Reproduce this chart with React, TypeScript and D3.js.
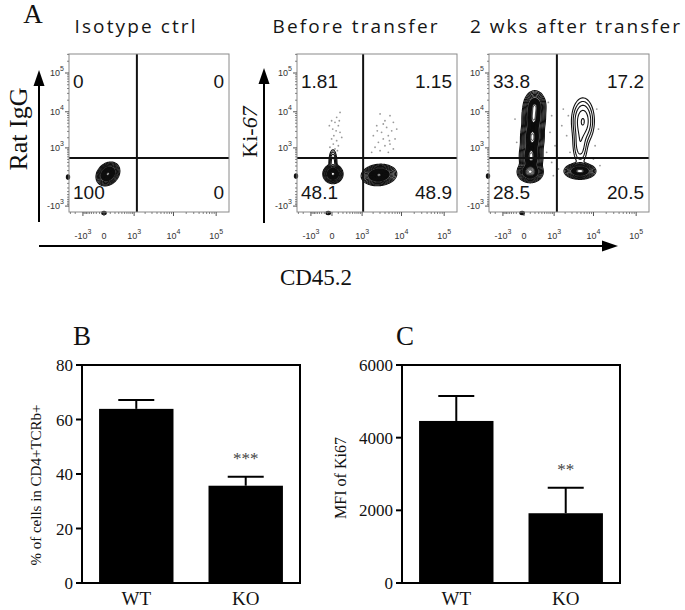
import React, { useMemo } from 'react';
import * as d3 from 'd3';

// ---------- Panel A data ----------
const FLOW_TITLES = ['Isotype ctrl', 'Before transfer', '2 wks after transfer'];
// quadrant percentages: UL, UR, LL, LR
const QUADRANT_PCTS = [
  ['0', '0', '100', '0'],
  ['1.81', '1.15', '48.1', '48.9'],
  ['33.8', '17.2', '28.5', '20.5'],
];
const LOG_TICKS_X = [-1000, 0, 1000, 10000, 100000];
const LOG_TICKS_Y = [-1000, 1000, 10000, 100000];
const GATE_X = [1200, 1070, 1200];
const GATE_Y = [450, 450, 450];

// populations in transformed (logicle-like) units: [cx, cy, sx, sy, weight, rho]
const POP_ISOTYPE = [[0.21, 0.18, 0.2, 0.22, 1.0, 0.25]];
const POP_BEFORE = [
  [0.05, 0.18, 0.17, 0.18, 1.0, 0],
  [0.05, 0.85, 0.1, 0.35, 0.06, 0],
  [2.51, 0.12, 0.3, 0.2, 0.95, 0.1],
];
const POP_AFTER = [
  [0.33, 0.3, 0.22, 0.2, 1.0, 0],
  [0.38, 1.2, 0.21, 0.42, 0.62, 0],
  [0.45, 2.35, 0.21, 0.42, 0.6, 0],
  [0.52, 3.5, 0.21, 0.42, 0.58, 0],
  [0.58, 4.2, 0.2, 0.3, 0.45, 0],
  [2.99, 0.35, 0.28, 0.16, 0.68, 0],
  [3.0, 1.9, 0.2, 0.6, 0.035, 0],
  [3.15, 3.3, 0.28, 0.62, 0.07, 0],
];
const CONTOUR_LEVELS = [0.006, 0.012, 0.022, 0.04, 0.065, 0.1, 0.15, 0.21, 0.28, 0.36, 0.45, 0.55, 0.66, 0.78, 0.9];
// density levels (fraction of max) at which contours become solid / show a light core
const SOLID_FROM = [0.15, 0.15, 0.15];
const CORE_AT = [0.95, 0.88, 0.5];

const OUTLIERS_ISOTYPE: number[][] = [[0.75, 0.3]];
const OUTLIERS_BEFORE = [
  [0.43, 3.8], [0.25, 3.51], [-0.02, 3.31], [0.16, 3.22], [0.34, 3.02], [0.04, 2.82], [0.22, 2.72],
  [0.43, 2.63], [0.1, 2.43], [-0.02, 2.24], [0.25, 2.14], [0.07, 1.94], [0.34, 1.84], [0.16, 1.65],
  [0.04, 1.45], [0.29, 1.55], [-0.11, 1.75], [0.52, 2.33], [-0.14, 3.02], [0.39, 3.31],
  [2.57, 3.71], [3.1, 3.61], [2.83, 3.31], [3.28, 3.22], [2.39, 3.02], [2.92, 2.92], [3.19, 2.72],
  [2.65, 2.63], [2.21, 2.43], [3.01, 2.43], [3.37, 2.24], [2.74, 2.24], [2.48, 2.04], [3.1, 1.94],
  [2.83, 1.84], [2.3, 1.75], [3.28, 1.65], [2.57, 1.55], [3.01, 1.45], [2.12, 1.45], [3.46, 2.82],
  [2.74, 3.12], [2.42, 2.72], [3.07, 2.14],
];
const OUTLIERS_AFTER = [
  [1.3, 4.39], [1.48, 3.61], [1.39, 2.63], [1.66, 1.84], [1.21, 1.45], [1.48, 0.86], [-0.48, 3.41],
  [-0.39, 2.04], [2.02, 3.02], [2.1, 4.0], [1.84, 0.47], [3.89, 4.0], [3.98, 2.82], [3.8, 1.84],
  [2.28, 2.43], [2.46, 1.45], [3.71, 1.06], [4.06, 0.67], [2.37, 3.61], [1.57, 0.08],
];
// off-scale events piled on axes (transformed units)
const EDGE_LEFT_Y = [0, 0.06, 0.06];
const EDGE_BOTTOM_X = [0, -0.2, -0.1];

// ---------- Panel B / C data ----------
const GROUPS = ['WT', 'KO'];
const PCT_MEAN = [63.9, 35.7];
const PCT_SEM = [3.3, 3.3];
const PCT_TICKS = [0, 20, 40, 60, 80];
const MFI_MEAN = [4460, 1920];
const MFI_SEM = [690, 705];
const MFI_TICKS = [0, 2000, 4000, 6000];
const SIG_B = ['', '***'];
const SIG_C = ['', '**'];

// ---------- layout ----------
const FLOW_LEFT = [69, 297, 489];
const FLOW_TOP = 54;
const FLOW_W = 160;
const FLOW_H = 158;
const X_T_DOMAIN = [-1.87, 6.68];
const Y_T_DOMAIN = [-2.06, 7.24];
const tfx = (v: number) => (v >= 0 ? Math.log1p(v / 250) : -0.7 * Math.log1p(-v / 250));
const tfy = (v: number) => (v >= 0 ? Math.log1p(v / 220) : -1.0 * Math.log1p(-v / 220));

const SERIF = '"Liberation Serif", "Times New Roman", serif';
const SANS = '"Liberation Sans", Arial, sans-serif';

const xT = d3.scaleLinear().domain(X_T_DOMAIN).range([0, FLOW_W]);
const yT = d3.scaleLinear().domain(Y_T_DOMAIN).range([FLOW_H, 0]);

function minorTicks(tf: (v: number) => number, scale: d3.ScaleLinear<number, number>) {
  const out: number[] = [];
  const dom = scale.domain();
  for (const sign of [1, -1]) {
    for (const dec of [100, 1000, 10000, 100000]) {
      for (let k = dec === 100 ? 1 : 2; k <= 9; k++) {
        const t = tf(sign * k * dec);
        if (t > dom[0] && t < dom[1]) out.push(scale(t));
      }
    }
  }
  return out;
}

function tickLabel(v: number, anchor: 'middle' | 'end', x: number, y: number, key: string) {
  if (v === 0) {
    return (
      <text key={key} x={x} y={y} fontSize={9} textAnchor={anchor} fill="#333" fontFamily={SANS}>0</text>
    );
  }
  const exp = Math.round(Math.log10(Math.abs(v)));
  return (
    <text key={key} x={x} y={y} fontSize={9} textAnchor={anchor} fill="#333" fontFamily={SANS}>
      {v < 0 ? '-10' : '10'}
      <tspan dy={-5} fontSize={7}>{exp}</tspan>
    </text>
  );
}

function FlowPlot({ idx, pops, outliers }: { idx: number; pops: number[][]; outliers: number[][] }) {
  const left = FLOW_LEFT[idx];
  const top = FLOW_TOP;
  const layers = useMemo(() => {
    const res = 2;
    const n = FLOW_W * res;
    const m = FLOW_H * res;
    const vals = new Array(n * m);
    let max = 0;
    for (let j = 0; j < m; j++) {
      const ty = yT.invert((j + 0.5) / res);
      for (let i = 0; i < n; i++) {
        const tx = xT.invert((i + 0.5) / res);
        let s = 0;
        for (const [cx, cy, sx, sy, w, r] of pops) {
          const dx = (tx - cx) / sx;
          const dy = (ty - cy) / sy;
          const q = (dx * dx - 2 * r * dx * dy + dy * dy) / (1 - r * r);
          s += w * Math.exp(-0.5 * q);
        }
        vals[j * n + i] = s;
        if (s > max) max = s;
      }
    }
    const levels = [...CONTOUR_LEVELS, SOLID_FROM[idx], CORE_AT[idx]]
      .filter((v, i, a) => a.indexOf(v) === i)
      .sort((a, b) => a - b);
    const contours = d3.contours().size([n, m]).thresholds(levels.map((f) => f * max))(vals);
    const path = d3.geoPath(d3.geoIdentity().scale(1 / res) as any);
    return contours.map((c, i) => ({
      d: path(c as any) || '',
      level: levels[i],
    }));
  }, [pops, idx]);

  const gx = xT(tfx(GATE_X[idx]));
  const gy = yT(tfy(GATE_Y[idx]));
  const q = QUADRANT_PCTS[idx];
  const clipId = `clip${idx}`;
  const minX = minorTicks(tfx, xT);
  const minY = minorTicks(tfy, yT);

  return (
    <g transform={`translate(${left},${top})`}>
      <defs>
        <clipPath id={clipId}>
          <rect x={0} y={0} width={FLOW_W} height={FLOW_H} />
        </clipPath>
      </defs>
      <rect x={0} y={0} width={FLOW_W} height={FLOW_H} fill="#fff" />
      <g clipPath={`url(#${clipId})`}>
        {outliers.map(([tx, ty], i) => (
          <circle key={i} cx={xT(tx)} cy={yT(ty)} r={0.9} fill="#9a9a9a" />
        ))}
        {layers.map((l, i) => {
          const fill = l.level === CORE_AT[idx] ? '#fff' : l.level === SOLID_FROM[idx] ? '#0a0a0a' : 'none';
          return (
            <path
              key={i}
              d={l.d}
              fill={fill}
              stroke="#111"
              strokeWidth={l.level < SOLID_FROM[idx] ? 1.1 : 0.9}
              strokeLinejoin="round"
            />
          );
        })}
      </g>
      {/* off-scale events on axes */}
      <ellipse cx={-1} cy={yT(EDGE_LEFT_Y[idx])} rx={2.2} ry={2.8} fill="#111" />
      <ellipse cx={xT(EDGE_BOTTOM_X[idx])} cy={FLOW_H + 1} rx={2.8} ry={2.2} fill="#111" />
      {/* gates */}
      <line x1={gx} x2={gx} y1={0} y2={FLOW_H} stroke="#111" strokeWidth={2} />
      <line x1={0} x2={FLOW_W} y1={gy} y2={gy} stroke="#111" strokeWidth={2} />
      <rect x={0} y={0} width={FLOW_W} height={FLOW_H} fill="none" stroke="#8a8a8a" strokeWidth={1} />
      {/* ticks */}
      {minX.map((x, i) => (
        <line key={`mx${i}`} x1={x} x2={x} y1={FLOW_H} y2={FLOW_H + 2} stroke="#666" strokeWidth={0.8} />
      ))}
      {minY.map((y, i) => (
        <line key={`my${i}`} x1={0} x2={-2} y1={y} y2={y} stroke="#666" strokeWidth={0.8} />
      ))}
      {LOG_TICKS_X.map((v) => {
        const x = xT(tfx(v));
        return <line key={`tx${v}`} x1={x} x2={x} y1={FLOW_H} y2={FLOW_H + 4} stroke="#555" strokeWidth={1} />;
      })}
      {LOG_TICKS_Y.map((v) => {
        const y = yT(tfy(v));
        return <line key={`ty${v}`} x1={0} x2={-4} y1={y} y2={y} stroke="#555" strokeWidth={1} />;
      })}
      {LOG_TICKS_X.map((v) => tickLabel(v, 'middle', xT(tfx(v)), FLOW_H + 27, `lx${v}`))}
      {LOG_TICKS_Y.map((v) => tickLabel(v, 'end', -5, yT(tfy(v)) + 3, `ly${v}`))}
      {/* quadrant numbers */}
      <g fontFamily={SANS} fontSize={19} fill="#151515">
        <text x={4} y={34}>{q[0]}</text>
        <text x={FLOW_W - 5} y={34} textAnchor="end">{q[1]}</text>
        <text x={4} y={FLOW_H - 13}>{q[2]}</text>
        <text x={FLOW_W - 5} y={FLOW_H - 13} textAnchor="end">{q[3]}</text>
      </g>
    </g>
  );
}

function BarPanel({
  x0, x1, max, ticks, means, sems, sig, letter, letterX, ylabel, ylabelX, ylabelY, ylabelSize,
}: {
  x0: number; x1: number; max: number; ticks: number[]; means: number[]; sems: number[]; sig: string[];
  letter: string; letterX: number; ylabel: string; ylabelX: number; ylabelY: number; ylabelSize: number;
}) {
  const yTop = 365;
  const yBot = 583;
  const y = d3.scaleLinear().domain([0, max]).range([yBot, yTop]);
  const x = d3.scaleBand<string>().domain(GROUPS).range([x0, x1]).paddingInner(0.32).paddingOuter(0.156);
  const bw = x.bandwidth();
  return (
    <g>
      <text x={letterX} y={345} fontFamily={SERIF} fontSize={27} textAnchor="middle" fill="#111">{letter}</text>
      {GROUPS.map((g, i) => {
        const cx = (x(g) as number) + bw / 2;
        const ym = y(means[i]);
        const ye = y(means[i] + sems[i]);
        return (
          <g key={g}>
            <rect x={x(g)} y={ym} width={bw} height={yBot - ym} fill="#000" />
            <line x1={cx} x2={cx} y1={ym} y2={ye} stroke="#000" strokeWidth={2} />
            <line x1={cx - 18} x2={cx + 18} y1={ye} y2={ye} stroke="#000" strokeWidth={2} />
            {sig[i] && (
              <text x={cx} y={ye - 13} textAnchor="middle" fontFamily={SERIF} fontSize={17} fill="#444">{sig[i]}</text>
            )}
            <text x={cx} y={605} textAnchor="middle" fontFamily={SERIF} fontSize={19} fill="#111">{g}</text>
          </g>
        );
      })}
      <rect x={x0} y={yTop} width={x1 - x0} height={yBot - yTop} fill="none" stroke="#000" strokeWidth={2} />
      {ticks.map((t) => (
        <g key={t}>
          <line x1={x0} x2={x0 - 6} y1={y(t)} y2={y(t)} stroke="#000" strokeWidth={2} />
          <text x={x0 - 9} y={y(t) + 6} textAnchor="end" fontFamily={SERIF} fontSize={17} fill="#111">{t}</text>
        </g>
      ))}
      <text
        transform={`translate(${ylabelX},${ylabelY}) rotate(-90)`}
        textAnchor="middle"
        fontFamily={SERIF}
        fontSize={ylabelSize}
        fill="#111"
      >
        {ylabel}
      </text>
    </g>
  );
}

export default function App() {
  return (
    <svg
      width={685}
      height={610}
      viewBox="0 0 685 610"
      style={{ position: 'absolute', left: 0, top: 0, background: '#fff' }}
    >
      <rect x={0} y={0} width={685} height={610} fill="#fff" />
      {/* Panel A */}
      <text x={33} y={23} fontFamily={SERIF} fontSize={27} textAnchor="middle" fill="#111">A</text>
      <g fontFamily='"Open Sans", sans-serif' fontSize={19} fill="#151515">
        <text x={135} y={33} textAnchor="middle" textLength={121} lengthAdjust="spacing">{FLOW_TITLES[0]}</text>
        <text x={355} y={33} textAnchor="middle" textLength={165} lengthAdjust="spacing">{FLOW_TITLES[1]}</text>
        <text x={575} y={33} textAnchor="middle" textLength={210} lengthAdjust="spacing">{FLOW_TITLES[2]}</text>
      </g>
      <FlowPlot idx={0} pops={POP_ISOTYPE} outliers={OUTLIERS_ISOTYPE} />
      <FlowPlot idx={1} pops={POP_BEFORE} outliers={OUTLIERS_BEFORE} />
      <FlowPlot idx={2} pops={POP_AFTER} outliers={OUTLIERS_AFTER} />
      {/* y arrows */}
      <line x1={39} x2={39} y1={222} y2={82} stroke="#000" strokeWidth={2} />
      <path d="M39,70 L33.5,86 L44.5,86 Z" fill="#000" />
      <line x1={264} x2={264} y1={223} y2={80} stroke="#000" strokeWidth={2} />
      <path d="M264,68 L258.5,84 L269.5,84 Z" fill="#000" />
      {/* x arrow */}
      <line x1={39} x2={606} y1={246} y2={246} stroke="#000" strokeWidth={2} />
      <path d="M618,246 L602,240.5 L602,251.5 Z" fill="#000" />
      <text transform="translate(27,129) rotate(-90)" textAnchor="middle" fontFamily={SERIF} fontSize={26} fill="#111">Rat IgG</text>
      <text transform="translate(257,132) rotate(-90)" textAnchor="middle" fontFamily={SERIF} fontSize={22} fill="#111">
        Ki-<tspan fontStyle="italic">67</tspan>
      </text>
      <text x={316} y={285} textAnchor="middle" fontFamily={SERIF} fontSize={23} fill="#111">CD45.2</text>

      {/* Panel B */}
      <BarPanel
        x0={82} x1={300} max={80} ticks={PCT_TICKS} means={PCT_MEAN} sems={PCT_SEM} sig={SIG_B}
        letter="B" letterX={82} ylabel="% of cells in CD4+TCRb+" ylabelX={41} ylabelY={485} ylabelSize={15}
      />
      {/* Panel C */}
      <BarPanel
        x0={402} x1={620} max={6000} ticks={MFI_TICKS} means={MFI_MEAN} sems={MFI_SEM} sig={SIG_C}
        letter="C" letterX={405} ylabel="MFI of Ki67" ylabelX={346} ylabelY={478} ylabelSize={16}
      />
    </svg>
  );
}
